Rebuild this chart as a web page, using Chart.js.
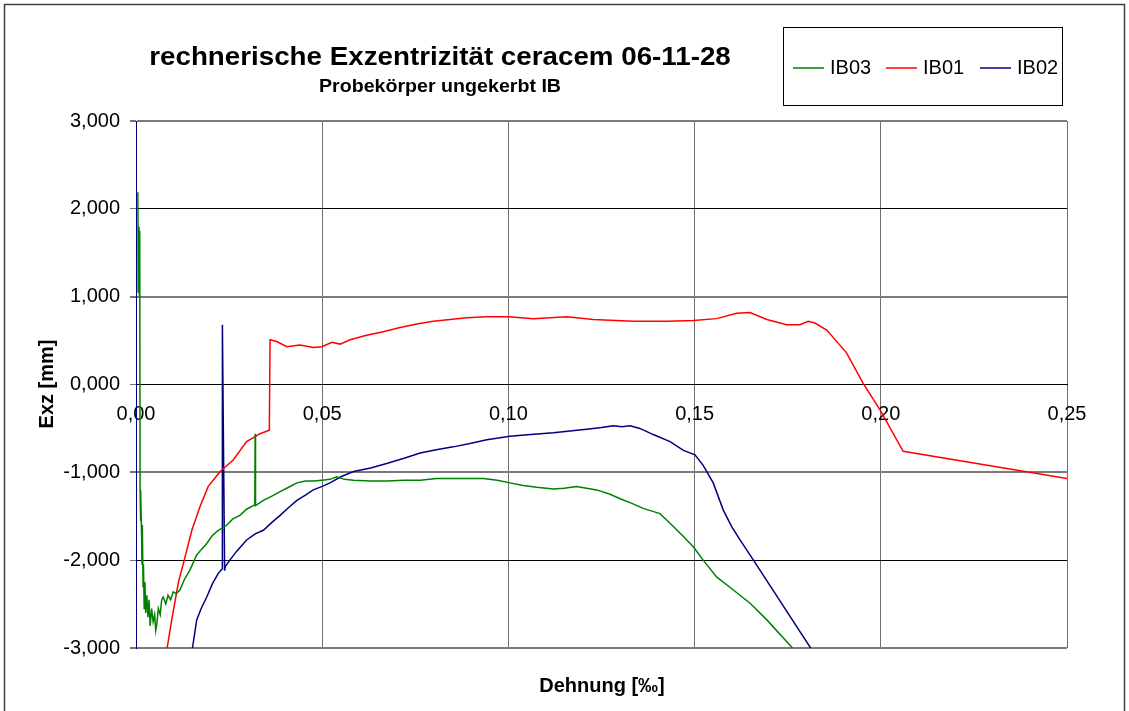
<!DOCTYPE html>
<html>
<head>
<meta charset="utf-8">
<script src="https://cdn.jsdelivr.net/npm/chart.js@4.4.1/dist/chart.umd.min.js"></script>
<style>
  html, body { margin: 0; padding: 0; background: #fff; }
  #wrap { width: 1129px; height: 711px; }
</style>
</head>
<body>
<div id="wrap"><canvas id="exzChart" width="1129" height="711"></canvas></div>
<script>
// Dehnung [‰] / Exz [mm]
const seriesNames = ['IB03', 'IB01', 'IB02'];
const seriesColors = ['#008000', '#ff0000', '#000080'];

const ib03X = [0.0005, 0.0006, 0.0008, 0.0009, 0.0010, 0.0011, 0.0012, 0.0013, 0.0015, 0.0016, 0.0017, 0.0019, 0.0020, 0.0022, 0.0024, 0.0026, 0.0029, 0.0032, 0.0035, 0.0038, 0.0042, 0.0046, 0.0050, 0.0053, 0.0056, 0.0060, 0.0065, 0.0069, 0.0073, 0.0080, 0.0086, 0.0093, 0.0100, 0.0108, 0.0118, 0.0130, 0.0145, 0.0163, 0.0175, 0.0190, 0.0205, 0.0221, 0.0244, 0.0260, 0.0279, 0.0297, 0.0315, 0.0319, 0.0320, 0.0321, 0.0342, 0.0365, 0.0387, 0.0410, 0.0432, 0.0455, 0.0476, 0.0500, 0.0521, 0.0539, 0.0560, 0.0584, 0.0630, 0.0673, 0.0720, 0.0763, 0.0807, 0.0870, 0.0933, 0.0970, 0.1004, 0.1040, 0.1076, 0.1121, 0.1150, 0.1183, 0.1210, 0.1237, 0.1273, 0.1300, 0.1330, 0.1362, 0.1407, 0.1434, 0.1470, 0.1497, 0.1523, 0.1559, 0.1604, 0.1649, 0.1694, 0.1761, 0.1780];
const ib03Y = [2.19, 1.05, 1.80, 1.02, 1.75, -1.20, -1.55, -1.22, -1.70, -2.05, -1.60, -2.30, -2.05, -2.55, -2.25, -2.60, -2.40, -2.65, -2.45, -2.75, -2.55, -2.70, -2.62, -2.80, -2.72, -2.55, -2.62, -2.45, -2.42, -2.50, -2.40, -2.45, -2.36, -2.38, -2.34, -2.22, -2.11, -1.94, -1.88, -1.81, -1.72, -1.66, -1.60, -1.53, -1.49, -1.42, -1.38, -1.37, -0.56, -1.38, -1.32, -1.27, -1.22, -1.17, -1.12, -1.10, -1.10, -1.09, -1.08, -1.05, -1.08, -1.09, -1.10, -1.10, -1.09, -1.09, -1.07, -1.07, -1.07, -1.09, -1.12, -1.15, -1.17, -1.19, -1.18, -1.16, -1.18, -1.20, -1.25, -1.30, -1.35, -1.41, -1.47, -1.58, -1.73, -1.85, -2.00, -2.19, -2.34, -2.49, -2.68, -2.99, -3.10];

const ib01X = [0.0078, 0.0084, 0.0096, 0.0114, 0.0132, 0.0150, 0.0172, 0.0194, 0.0226, 0.0261, 0.0297, 0.0333, 0.0358, 0.0360, 0.0378, 0.0405, 0.0440, 0.0476, 0.0499, 0.0526, 0.0548, 0.0575, 0.0619, 0.0664, 0.0709, 0.0754, 0.0798, 0.0843, 0.0888, 0.0942, 0.1000, 0.1067, 0.1157, 0.1228, 0.1335, 0.1425, 0.1497, 0.1559, 0.1613, 0.1649, 0.1694, 0.1747, 0.1783, 0.1805, 0.1823, 0.1855, 0.1908, 0.1953, 0.1998, 0.2060, 0.2500];
const ib01Y = [-3.30, -2.99, -2.68, -2.25, -1.96, -1.66, -1.39, -1.16, -0.99, -0.86, -0.65, -0.56, -0.52, 0.51, 0.49, 0.43, 0.45, 0.42, 0.43, 0.48, 0.46, 0.51, 0.56, 0.60, 0.65, 0.69, 0.72, 0.74, 0.76, 0.77, 0.77, 0.75, 0.77, 0.74, 0.72, 0.72, 0.73, 0.75, 0.81, 0.82, 0.74, 0.68, 0.68, 0.72, 0.70, 0.62, 0.36, 0.01, -0.29, -0.76, -1.07];

const ib02X = [0, 0, 0.0145, 0.0152, 0.0163, 0.0175, 0.0190, 0.0205, 0.0221, 0.0231, 0.0232, 0.0238, 0.0240, 0.0252, 0.0270, 0.0297, 0.0320, 0.0342, 0.0365, 0.0387, 0.0410, 0.0432, 0.0455, 0.0476, 0.0500, 0.0521, 0.0550, 0.0584, 0.0630, 0.0673, 0.0720, 0.0763, 0.0810, 0.0852, 0.0900, 0.0942, 0.1004, 0.1060, 0.1121, 0.1165, 0.1210, 0.1250, 0.1282, 0.1305, 0.1327, 0.1353, 0.1389, 0.1434, 0.1470, 0.1501, 0.1523, 0.1550, 0.1577, 0.1600, 0.1622, 0.1658, 0.1810, 0.1830];
const ib02Y = [3.50, -4.00, -3.20, -2.99, -2.68, -2.55, -2.42, -2.27, -2.15, -2.10, 0.68, -2.12, -2.07, -2.00, -1.90, -1.77, -1.70, -1.66, -1.57, -1.49, -1.40, -1.32, -1.26, -1.20, -1.16, -1.12, -1.05, -0.99, -0.95, -0.90, -0.84, -0.78, -0.74, -0.71, -0.67, -0.63, -0.59, -0.57, -0.55, -0.53, -0.51, -0.49, -0.47, -0.48, -0.47, -0.50, -0.57, -0.65, -0.75, -0.80, -0.92, -1.12, -1.43, -1.62, -1.77, -2.00, -2.99, -3.20];

const allX = [ib03X, ib01X, ib02X];
const allY = [ib03Y, ib01Y, ib02Y];

const FONT = "'Liberation Sans', Arial, sans-serif";
const deNum = (v, d) => v.toFixed(d).replace('.', ',');

// Excel's title font is a bit wider than Liberation, so stretch it slightly
function wideText(ctx, text, x, y, sx) {
    ctx.save();
    ctx.translate(x, y);
    ctx.scale(sx, 1);
    ctx.fillText(text, 0, 0);
    ctx.restore();
}

// title, legend box, axis titles and frame drawn like the Excel original
const decorPlugin = {
    id: 'decor',
    afterDraw(chart) {
        const ctx = chart.ctx;
        ctx.save();
        ctx.strokeStyle = '#404040';
        ctx.lineWidth = 1.5;
        ctx.strokeRect(4.5, 4.5, 1120, 720);

        ctx.fillStyle = '#000';
        ctx.textAlign = 'center';
        ctx.textBaseline = 'middle';
        ctx.font = 'bold 25px ' + FONT;
        wideText(ctx, 'rechnerische Exzentrizität ceracem 06-11-28', 440, 58, 1.11);
        ctx.font = 'bold 18px ' + FONT;
        wideText(ctx, 'Probekörper ungekerbt IB', 440, 87, 1.09);

        ctx.font = 'bold 20px ' + FONT;
        ctx.fillText('Dehnung [‰]', 602, 686);
        ctx.save();
        ctx.translate(47, 384);
        ctx.rotate(-Math.PI / 2);
        ctx.fillText('Exz [mm]', 0, 0);
        ctx.restore();

        // legend
        ctx.strokeStyle = '#000';
        ctx.lineWidth = 1;
        ctx.strokeRect(783.5, 27.5, 279, 78);
        ctx.font = '20px ' + FONT;
        ctx.textAlign = 'left';
        const lx = [793, 886, 980];
        seriesNames.forEach((n, i) => {
            ctx.strokeStyle = seriesColors[i];
            ctx.lineWidth = 1.5;
            ctx.beginPath();
            ctx.moveTo(lx[i], 68);
            ctx.lineTo(lx[i] + 31, 68);
            ctx.stroke();
            ctx.fillText(n, lx[i] + 37, 68);
        });
        ctx.restore();
    }
};

new Chart(document.getElementById('exzChart'), {
    type: 'line',
    data: {
        datasets: seriesNames.map((n, i) => ({
            label: n,
            data: allX[i].map((x, k) => ({ x: x, y: allY[i][k] })),
            borderColor: seriesColors[i],
            borderWidth: 1.5,
            pointRadius: 0,
            tension: 0,
            fill: false
        }))
    },
    options: {
        responsive: false, animation: false,
        layout: { padding: { left: 0, right: 62, top: 121, bottom: 63 } },
        scales: {
            x: {
                type: 'linear', min: 0, max: 0.25,
                position: { y: 0 },
                grid: { color: '#707070', lineWidth: 1, tickLength: 6, drawTicks: true },
                border: { color: '#000', width: 1 },
                ticks: {
                    stepSize: 0.05, padding: 12, color: '#000', maxRotation: 0,
                    font: { family: FONT, size: 20 },
                    callback: (v) => deNum(v, 2)
                }
            },
            y: {
                type: 'linear', min: -3, max: 3, position: 'left',
                afterFit: (scale) => { scale.width = 136; },
                grid: {
                    color: (c) => (Math.abs(c.tick && c.tick.value) % 2 === 1 ? '#7a7a7a' : '#000'),
                    lineWidth: (c) => (Math.abs(c.tick && c.tick.value) % 2 === 1 ? 2 : 1),
                    tickLength: 6, tickColor: '#707070'
                },
                border: { color: '#000080', width: 1 },
                ticks: {
                    stepSize: 1, padding: 10, color: '#000',
                    font: { family: FONT, size: 20 },
                    callback: (v) => deNum(v, 3)
                }
            }
        },
        plugins: {
            legend: { display: false },
            title: { display: false },
            tooltip: { enabled: false }
        }
    },
    plugins: [decorPlugin]
});
</script>
</body>
</html>
